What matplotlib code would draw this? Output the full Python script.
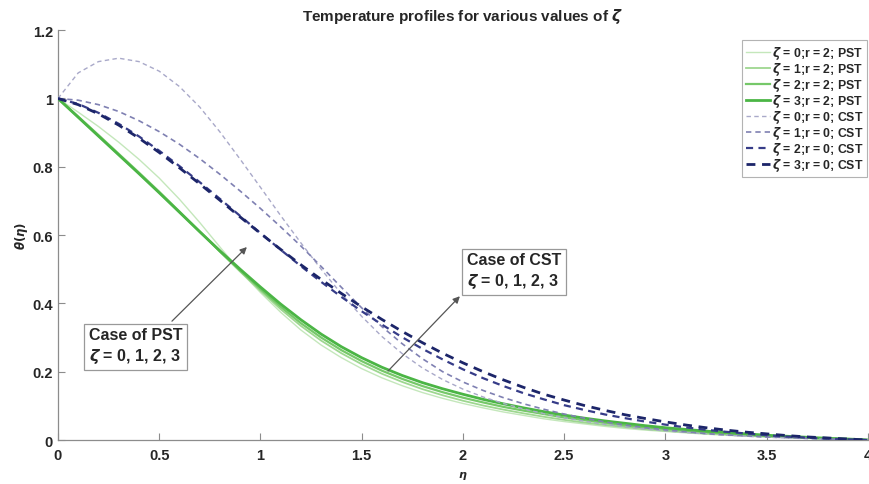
"""Temperature profiles for various values of zeta (PST vs CST)."""

import matplotlib
import matplotlib.pyplot as plt
import numpy as np

matplotlib.use("Agg")

# --- data, eta = 0 .. 4 step 0.1 ---
ETA = [round(0.1 * i, 1) for i in range(41)]

PST_Z0 = [1.000, 0.960, 0.918, 0.872, 0.822, 0.767, 0.705, 0.637, 0.565, 0.494,
          0.432, 0.374, 0.322, 0.278, 0.241, 0.209, 0.182, 0.159, 0.139, 0.122,
          0.107, 0.094, 0.082, 0.072, 0.062, 0.054, 0.047, 0.040, 0.034, 0.029,
          0.025, 0.021, 0.017, 0.014, 0.011, 0.009, 0.007, 0.005, 0.003, 0.001,
          0.000]
PST_Z1 = [1.000, 0.948, 0.894, 0.839, 0.784, 0.728, 0.670, 0.611, 0.551, 0.493,
          0.437, 0.383, 0.334, 0.291, 0.254, 0.222, 0.194, 0.170, 0.149, 0.131,
          0.115, 0.101, 0.089, 0.078, 0.068, 0.059, 0.051, 0.044, 0.038, 0.032,
          0.027, 0.023, 0.019, 0.016, 0.013, 0.010, 0.008, 0.006, 0.004, 0.002,
          0.000]
PST_Z2 = [1.000, 0.946, 0.891, 0.836, 0.781, 0.725, 0.668, 0.610, 0.552, 0.496,
          0.442, 0.390, 0.342, 0.300, 0.263, 0.231, 0.203, 0.179, 0.158, 0.140,
          0.124, 0.110, 0.097, 0.086, 0.076, 0.066, 0.058, 0.050, 0.043, 0.037,
          0.032, 0.027, 0.023, 0.019, 0.015, 0.012, 0.009, 0.007, 0.004, 0.002,
          0.000]
PST_Z3 = [1.000, 0.945, 0.890, 0.835, 0.780, 0.724, 0.667, 0.610, 0.554, 0.500,
          0.448, 0.398, 0.352, 0.310, 0.273, 0.241, 0.213, 0.189, 0.168, 0.150,
          0.134, 0.119, 0.106, 0.094, 0.083, 0.073, 0.064, 0.056, 0.049, 0.042,
          0.036, 0.031, 0.026, 0.022, 0.018, 0.014, 0.011, 0.008, 0.005, 0.003,
          0.000]

CST_Z0 = [1.000, 1.075, 1.108, 1.118, 1.108, 1.080, 1.035, 0.975, 0.902, 0.822,
          0.740, 0.657, 0.577, 0.500, 0.428, 0.362, 0.303, 0.253, 0.211, 0.177,
          0.149, 0.126, 0.107, 0.091, 0.077, 0.065, 0.055, 0.046, 0.039, 0.032,
          0.027, 0.022, 0.018, 0.014, 0.011, 0.008, 0.006, 0.004, 0.002, 0.001,
          0.000]
CST_Z1 = [1.000, 0.995, 0.982, 0.962, 0.935, 0.903, 0.866, 0.824, 0.778, 0.729,
          0.678, 0.624, 0.568, 0.508, 0.447, 0.387, 0.332, 0.282, 0.238, 0.200,
          0.170, 0.145, 0.124, 0.106, 0.090, 0.076, 0.064, 0.053, 0.044, 0.036,
          0.030, 0.024, 0.019, 0.015, 0.012, 0.009, 0.007, 0.005, 0.003, 0.001,
          0.000]
CST_Z2 = [1.000, 0.984, 0.958, 0.926, 0.889, 0.847, 0.802, 0.755, 0.706, 0.656,
          0.606, 0.557, 0.509, 0.463, 0.419, 0.377, 0.338, 0.301, 0.267, 0.236,
          0.207, 0.181, 0.158, 0.137, 0.119, 0.102, 0.088, 0.075, 0.064, 0.054,
          0.045, 0.037, 0.030, 0.024, 0.019, 0.014, 0.010, 0.007, 0.004, 0.002,
          0.000]
CST_Z3 = [1.000, 0.982, 0.955, 0.922, 0.884, 0.842, 0.797, 0.750, 0.702, 0.653,
          0.605, 0.558, 0.513, 0.470, 0.429, 0.390, 0.353, 0.318, 0.285, 0.254,
          0.226, 0.200, 0.176, 0.154, 0.134, 0.117, 0.101, 0.087, 0.074, 0.063,
          0.053, 0.044, 0.036, 0.029, 0.023, 0.018, 0.013, 0.009, 0.006, 0.003,
          0.000]

ZETAS = [0, 1, 2, 3]
X_TICKS = [0, 0.5, 1, 1.5, 2, 2.5, 3, 3.5, 4]
X_TICK_LABELS = ["0", "0.5", "1", "1.5", "2", "2.5", "3", "3.5", "4"]
Y_TICKS = [0, 0.2, 0.4, 0.6, 0.8, 1.0, 1.2]
Y_TICK_LABELS = ["0", "0.2", "0.4", "0.6", "0.8", "1", "1.2"]

# --- styling ---
INK = "#262626"
AXIS = "#8c8c8c"
GREENS = ["#c4e7bb", "#9ed790", "#76c869", "#4bb545"]
BLUES = ["#a9a9c9", "#7f80b2", "#363c88", "#1c2569"]
PST_LW = [1.0, 1.3, 1.6, 2.0]
CST_LW = [1.0, 1.2, 1.6, 2.0]

plt.rcParams.update({
    "font.family": "Liberation Sans",
    "font.weight": "bold",
    "font.size": 10,
    "mathtext.fontset": "dejavusans",
    "text.color": INK,
    "axes.edgecolor": AXIS,
    "xtick.color": AXIS,
    "ytick.color": AXIS,
})


def main():
    fig = plt.figure(figsize=(8.69, 4.85), dpi=100)
    ax = fig.add_axes([0.0667, 0.0907, 0.932, 0.845])
    eta = np.array(ETA)

    pst = [PST_Z0, PST_Z1, PST_Z2, PST_Z3]
    cst = [CST_Z0, CST_Z1, CST_Z2, CST_Z3]
    for z, vals, c, lw in zip(ZETAS, pst, GREENS, PST_LW):
        ax.plot(eta, vals, color=c, linewidth=lw,
                label=rf"$\zeta$ = {z};r = 2; PST", zorder=3)
    for z, vals, c, lw in zip(ZETAS, cst, BLUES, CST_LW):
        ax.plot(eta, vals, color=c, linewidth=lw, linestyle=(0, (3.2, 2.4)),
                label=rf"$\zeta$ = {z};r = 0; CST", zorder=4)

    ax.set_xlim(0, 4)
    ax.set_ylim(0, 1.2)
    ax.set_xticks(X_TICKS)
    ax.set_xticklabels(X_TICK_LABELS)
    ax.set_yticks(Y_TICKS)
    ax.set_yticklabels(Y_TICK_LABELS)
    for lab in ax.get_xticklabels() + ax.get_yticklabels():
        lab.set_color(INK)
        lab.set_fontweight("bold")
        lab.set_fontsize(10.5)
    ax.tick_params(direction="in", length=5, width=0.8)
    ax.tick_params(axis="x", pad=6)
    for spine in ("top", "right"):
        ax.spines[spine].set_visible(False)
    for spine in ("left", "bottom"):
        ax.spines[spine].set_linewidth(0.9)

    ax.set_xlabel(r"$\eta$", fontsize=8, color=INK, labelpad=5)
    ax.set_ylabel(r"$\theta(\eta)$", fontsize=8.5, color=INK, labelpad=2)
    ax.set_title(r"Temperature profiles for various values of $\zeta$",
                 fontsize=11, fontweight="bold", color=INK, pad=7)

    leg = ax.legend(loc="upper right", bbox_to_anchor=(0.999, 0.975),
                    fontsize=8.8, frameon=True, fancybox=False,
                    handlelength=2.0, handletextpad=0.15, labelspacing=-0.08,
                    borderpad=0.3, borderaxespad=0)
    leg.get_frame().set_edgecolor("#a0a0a0")
    leg.get_frame().set_linewidth(0.8)
    for t in leg.get_texts():
        t.set_fontweight("bold")

    box = dict(boxstyle="square,pad=0.3", fc="white", ec="#999999", lw=0.9)
    arrow = dict(arrowstyle="-|>", color="#555555", lw=0.9, mutation_scale=10,
                 shrinkA=0, shrinkB=0)
    ax.annotate("", xy=(0.933, 0.565), xytext=(0.563, 0.348),
                arrowprops=arrow, zorder=5)
    ax.text(0.153, 0.331, "Case of PST\n" + r"$\zeta$ = 0, 1, 2, 3",
            fontsize=11.5, fontweight="bold", color=INK, va="top", ha="left",
            linespacing=1.3, bbox=box, zorder=6)
    ax.annotate("", xy=(1.985, 0.421), xytext=(1.63, 0.202),
                arrowprops=arrow, zorder=5)
    ax.text(2.02, 0.55, "Case of CST\n" + r"$\zeta$ = 0, 1, 2, 3",
            fontsize=11.5, fontweight="bold", color=INK, va="top", ha="left",
            linespacing=1.3, bbox=box, zorder=6)

    fig.savefig("out.png", dpi=100, facecolor="white")
    plt.close(fig)


if __name__ == "__main__":
    main()
